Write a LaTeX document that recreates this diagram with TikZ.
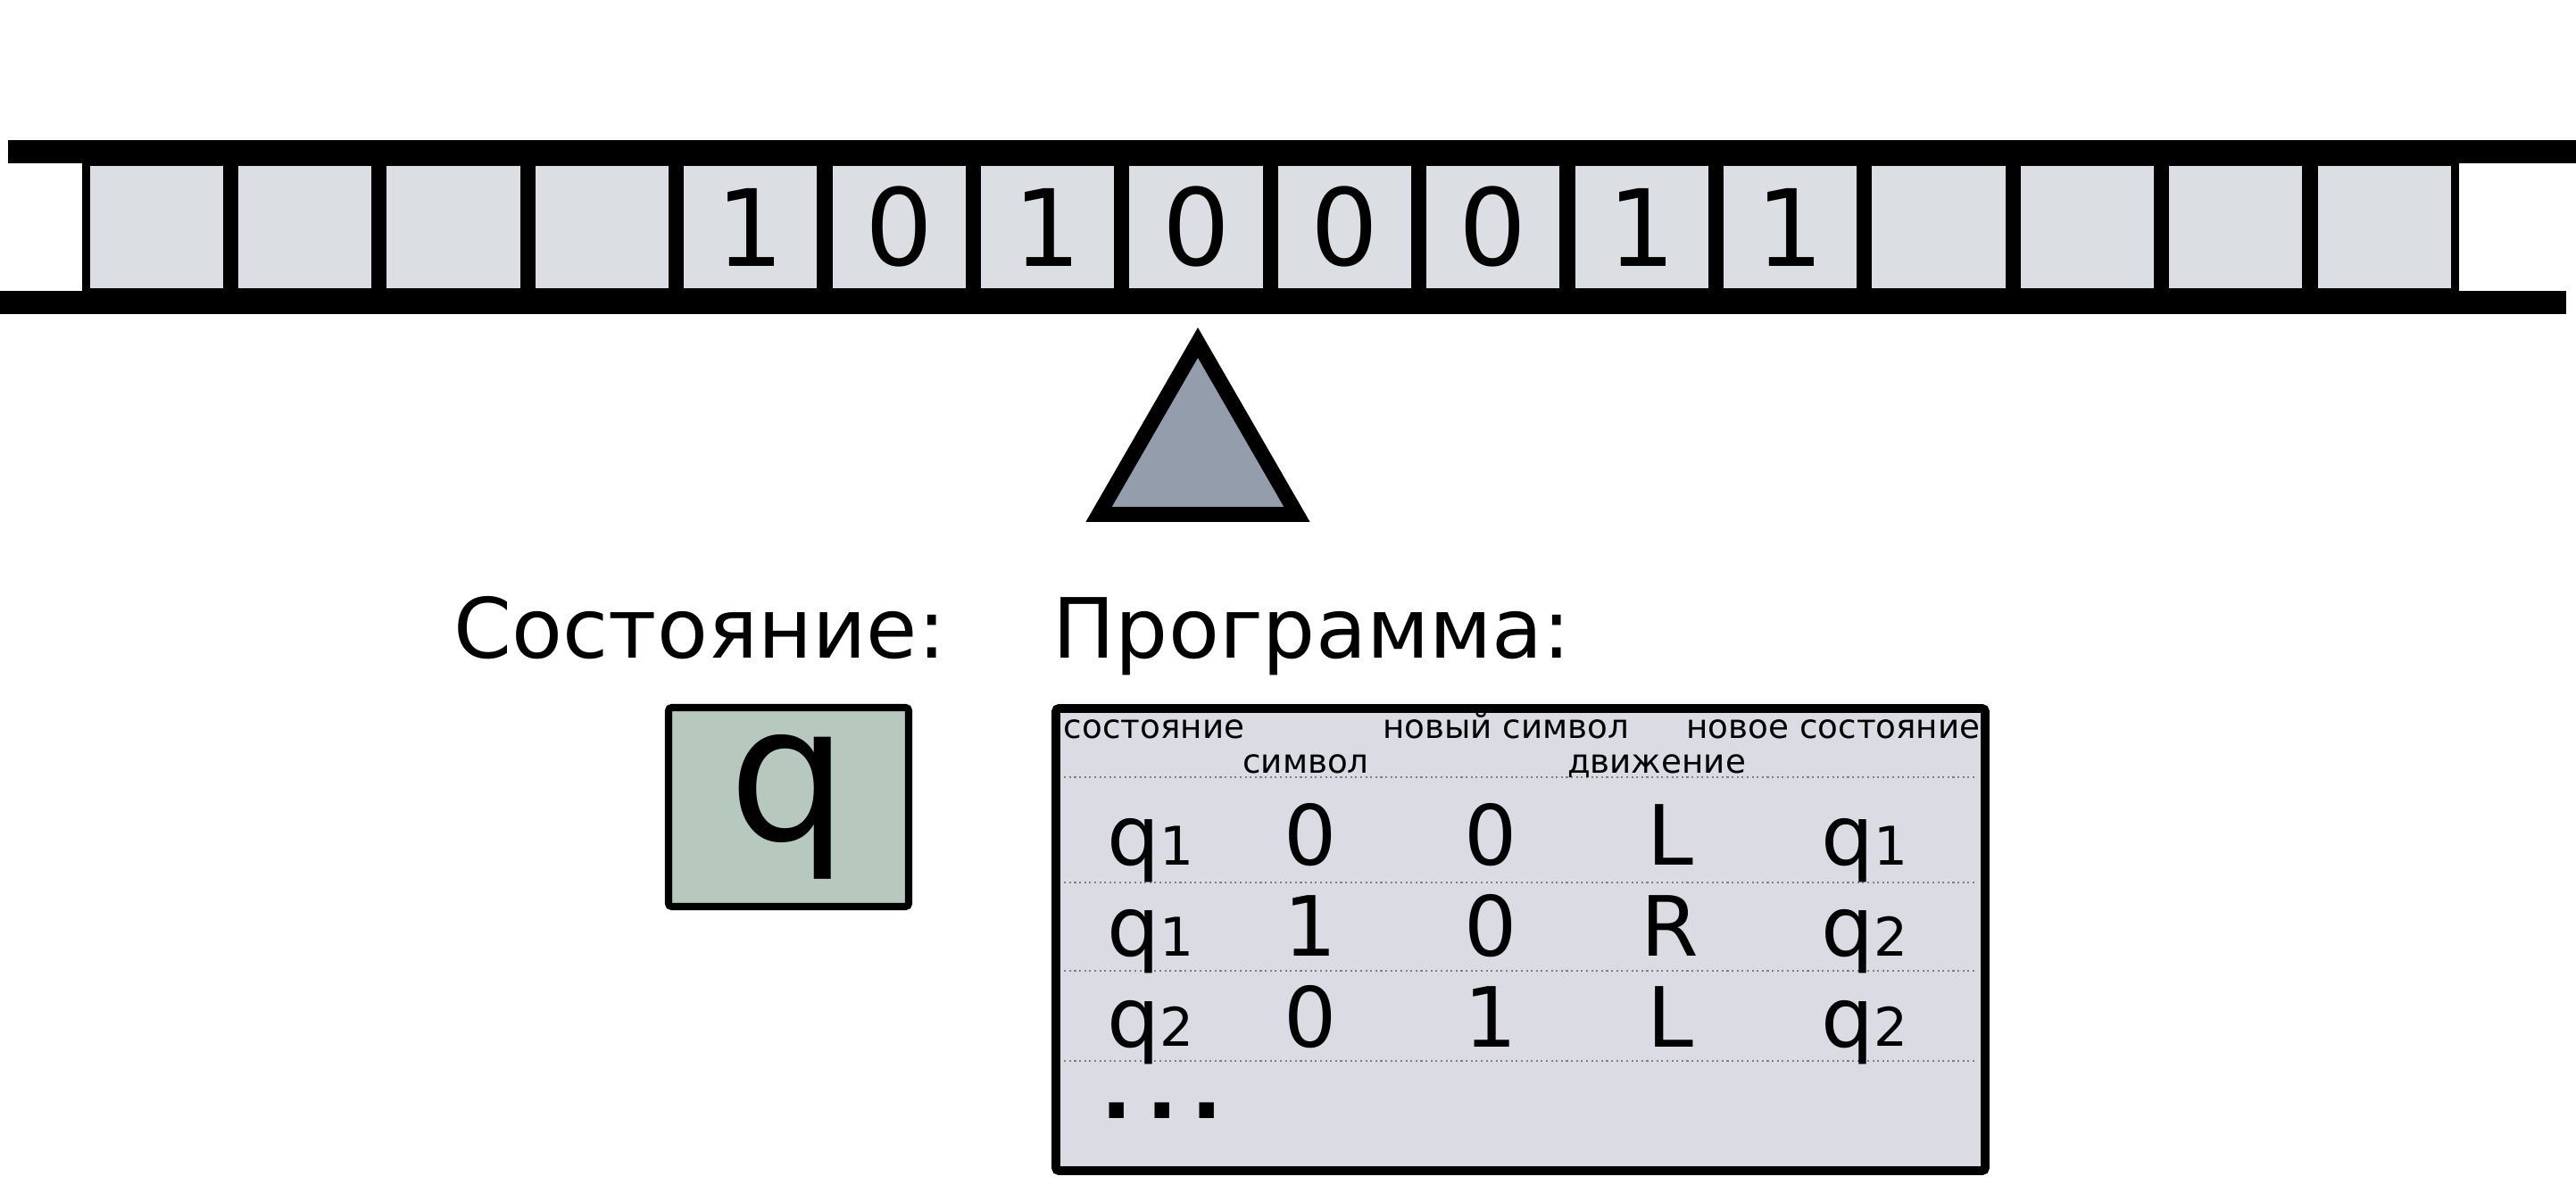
\documentclass[tikz,border=0pt]{standalone}
\usepackage{fontspec}
\setmainfont{DejaVu Sans}
\usetikzlibrary{positioning}

\definecolor{cellgray}{RGB}{219,222,227}
\definecolor{headgray}{RGB}{148,157,171}
\definecolor{stategreen}{RGB}{183,201,190}
\definecolor{proggray}{RGB}{218,219,227}

\newcommand{\qsub}[1]{q{\fontsize{17}{20}\selectfont #1}}

\begin{document}
\begin{tikzpicture}[
		cell/.style={draw,line width=2.5pt,fill=cellgray,minimum width=1.58cm,minimum height=1.46cm,inner sep=0pt,font=\fontsize{34}{40}\selectfont},
		title/.style={anchor=base,inner sep=0pt,font=\fontsize{26.5}{30}\selectfont},
		colhead/.style={anchor=base,inner sep=0pt,font=\fontsize{10.6}{12}\selectfont},
		entry/.style={anchor=base,inner sep=0pt,font=\fontsize{26.5}{30}\selectfont},
		rowline/.style={densely dotted,gray,line width=0.6pt}]
		\useasboundingbox (0,0) rectangle (28.86,13.36);
%		\draw[help lines] (0,0) grid (29,14);
		\path (13.42,9.52) coordinate (head_tip);
		\path (12.31,7.595) coordinate (head_left);
		\path (14.53,7.595) coordinate (head_right);
		\path (7.84,5.98) coordinate (state_title);
		\path (14.70,5.98) coordinate (prog_title);

		% tape
		\foreach \s [count=\i from 0] in {{},{},{},{},1,0,1,0,0,0,1,1,{},{},{},{}}
			\node[cell] (cell\i) at (1.752+1.664*\i,10.815) {\s};
		\fill (0.09,11.53) rectangle (28.86,11.79);
		\fill (0,9.84) rectangle (28.75,10.10);

		% head
		\draw[line width=4.8pt,line join=miter,fill=headgray] (head_tip) -- (head_right) -- (head_left) -- cycle;

		\node[title] (statelabel) at (state_title) {Состояние:};
		\node[title] (proglabel) at (prog_title) {Программа:};

		\node[draw,line width=2.3pt,fill=stategreen,minimum width=2.69cm,minimum height=2.23cm,rounded corners=1pt,inner sep=0pt,font=\fontsize{60}{70}\selectfont] (state) at (8.835,4.315) {q};

		% program table
		\node[draw,line width=2.8pt,fill=proggray,minimum width=10.41cm,minimum height=5.18cm,rounded corners=1pt] (prog) at (17.035,2.83) {};
		\foreach \y in {4.65,3.47,2.48,1.47}
			\draw[rowline] ([xshift=4pt]prog.west |- 0,\y) -- ([xshift=-4pt]prog.east |- 0,\y);
		\node[colhead] (h_state) at (12.93,5.08) {состояние};
		\node[colhead] (h_sym) at (14.63,4.69) {символ};
		\node[colhead] (h_newsym) at (16.87,5.08) {новый символ};
		\node[colhead] (h_move) at (18.56,4.69) {движение};
		\node[colhead] (h_newstate) at (20.54,5.08) {новое состояние};
		\foreach \a/\b/\c/\d/\e [count=\r] in {1/0/0/L/1,1/1/0/R/2,2/0/1/L/2} {
			\node[entry] (q\r) at (12.89,4.675-1.015*\r) {\qsub{\a}};
			\node[entry] (sym\r) at (14.68,4.675-1.015*\r) {\b};
			\node[entry] (new\r) at (16.70,4.675-1.015*\r) {\c};
			\node[entry] (move\r) at (18.71,4.675-1.015*\r) {\d};
			\node[entry] (next\r) at (20.89,4.675-1.015*\r) {\qsub{\e}};
		}
		\node[entry,anchor=base west,text height=0.25cm,font=\fontsize{26.5}{30}\selectfont\bfseries] (dots) at (12.33,0.83) {.\hspace{0.15cm}.\hspace{0.15cm}.};
	\end{tikzpicture}
\end{document}
